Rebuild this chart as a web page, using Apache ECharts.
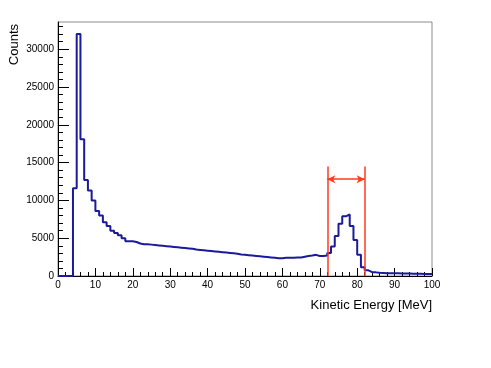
<!DOCTYPE html>
<html>
<head>
<meta charset="utf-8">
<script src="https://cdn.jsdelivr.net/npm/echarts@6/dist/echarts.min.js"></script>
<style>
  html, body { margin: 0; padding: 0; background: #fff; }
  #chart { width: 491px; height: 368px; }
</style>
</head>
<body>
<div id="chart"></div>
<script>
// counts per 1 MeV bin, bin i covers [i, i+1)
var binCounts = [
    0, 0, 0, 0, 11600, 32000, 18100, 12700, 11300, 10000,
    8600, 8000, 7100, 6600, 6000, 5700, 5400, 5000, 4600, 4600,
    4500, 4300, 4200, 4200, 4150, 4100, 4050, 4000, 3950, 3900,
    3850, 3800, 3750, 3700, 3650, 3600, 3500, 3450, 3400, 3350,
    3300, 3250, 3200, 3150, 3100, 3050, 3000, 2950, 2850, 2800,
    2750, 2700, 2650, 2600, 2550, 2500, 2450, 2400, 2350, 2350,
    2400, 2400, 2400, 2450, 2450, 2550, 2650, 2700, 2800, 2650,
    2650, 2700, 3050, 3900, 5300, 6900, 7900, 8150, 6600, 4750,
    2800, 1150, 750, 500, 480, 420, 400, 380, 370, 360,
    350, 340, 330, 320, 310, 300, 290, 280, 270, 260
];
var binWidth = 1;

var yMax = 33600;
var yMajorTicks = [0, 5000, 10000, 15000, 20000, 25000, 30000];
var yMinorStep = 1000;

// selection window drawn in red
var cutLow = 72;
var cutHigh = 82;
var cutLineTop = 14500;
var arrowLevel = 12800;

var yMinorTicks = [];
for (var t = 0; t <= yMax; t += yMinorStep) {
    yMinorTicks.push(t);
}

// step line through bin edges
var stepData = binCounts.map(function (v, i) {
    return [i * binWidth, v];
});
stepData.push([binCounts.length * binWidth, binCounts[binCounts.length - 1]]);

var chart = echarts.init(document.getElementById('chart'), null, { renderer: 'canvas' });

var labelFont = { fontFamily: 'Liberation Sans', fontSize: 10, color: '#000' };
var red = '#ff3a1f';
var gridBox = { left: 58, top: 22, right: 59, bottom: 92 };

chart.setOption({
    animation: false,
    backgroundColor: '#fff',
    grid: [
        Object.assign({ show: true, borderColor: '#8c8c8c', borderWidth: 1 }, gridBox),
        // twin grid only for the y minor ticks
        Object.assign({ show: false }, gridBox)
    ],
    xAxis: [
        {
            type: 'value',
            min: 0, max: 100, interval: 10,
            axisLine: { lineStyle: { color: '#000', width: 1 } },
            axisTick: { inside: true, length: 8, lineStyle: { color: '#000' } },
            minorTick: { show: true, splitNumber: 5, length: 4, lineStyle: { color: '#000' } },
            splitLine: { show: false },
            axisLabel: Object.assign({ margin: 4 }, labelFont)
        },
        { type: 'value', gridIndex: 1, min: 0, max: 100, show: false }
    ],
    yAxis: [
        {
            type: 'value',
            min: 0, max: yMax, interval: 5000,
            axisLine: { show: true, lineStyle: { color: '#000', width: 1 } },
            axisTick: { show: true, inside: true, length: 11, customValues: yMajorTicks, lineStyle: { color: '#000' } },
            splitLine: { show: false },
            axisLabel: Object.assign({
                margin: 4,
                customValues: yMajorTicks,
                formatter: function (v) { return String(v); }
            }, labelFont)
        },
        {
            type: 'value',
            gridIndex: 1,
            min: 0, max: yMax,
            axisLine: { show: false },
            axisTick: { show: true, inside: true, length: 5, customValues: yMinorTicks, lineStyle: { color: '#000' } },
            splitLine: { show: false },
            axisLabel: { show: false, customValues: yMinorTicks }
        }
    ],
    series: [
        {
            type: 'line',
            step: 'end',
            data: stepData,
            symbol: 'none',
            lineStyle: { color: '#1a1a9a', width: 2 },
            markLine: {
                silent: true,
                animation: false,
                label: { show: false },
                lineStyle: { color: red, width: 1.5, type: 'solid' },
                emphasis: { disabled: true },
                data: [
                    [{ coord: [cutLow, 0], symbol: 'none' }, { coord: [cutLow, cutLineTop], symbol: 'none' }],
                    [{ coord: [cutHigh, 0], symbol: 'none' }, { coord: [cutHigh, cutLineTop], symbol: 'none' }],
                    [
                        { coord: [cutLow, arrowLevel], symbol: 'arrow', symbolSize: [6, 8] },
                        { coord: [cutHigh, arrowLevel], symbol: 'arrow', symbolSize: [6, 8] }
                    ]
                ]
            }
        }
    ],
    graphic: [
        {
            type: 'text',
            x: 432, y: 305,
            style: {
                text: 'Kinetic Energy [MeV]',
                fontFamily: 'Liberation Sans', fontSize: 13, fill: '#000',
                align: 'right', verticalAlign: 'middle'
            }
        },
        {
            type: 'text',
            x: 14, y: 24,
            rotation: Math.PI / 2,
            style: {
                text: 'Counts',
                fontFamily: 'Liberation Sans', fontSize: 13, fill: '#000',
                align: 'right', verticalAlign: 'middle'
            }
        }
    ]
});
</script>
</body>
</html>
